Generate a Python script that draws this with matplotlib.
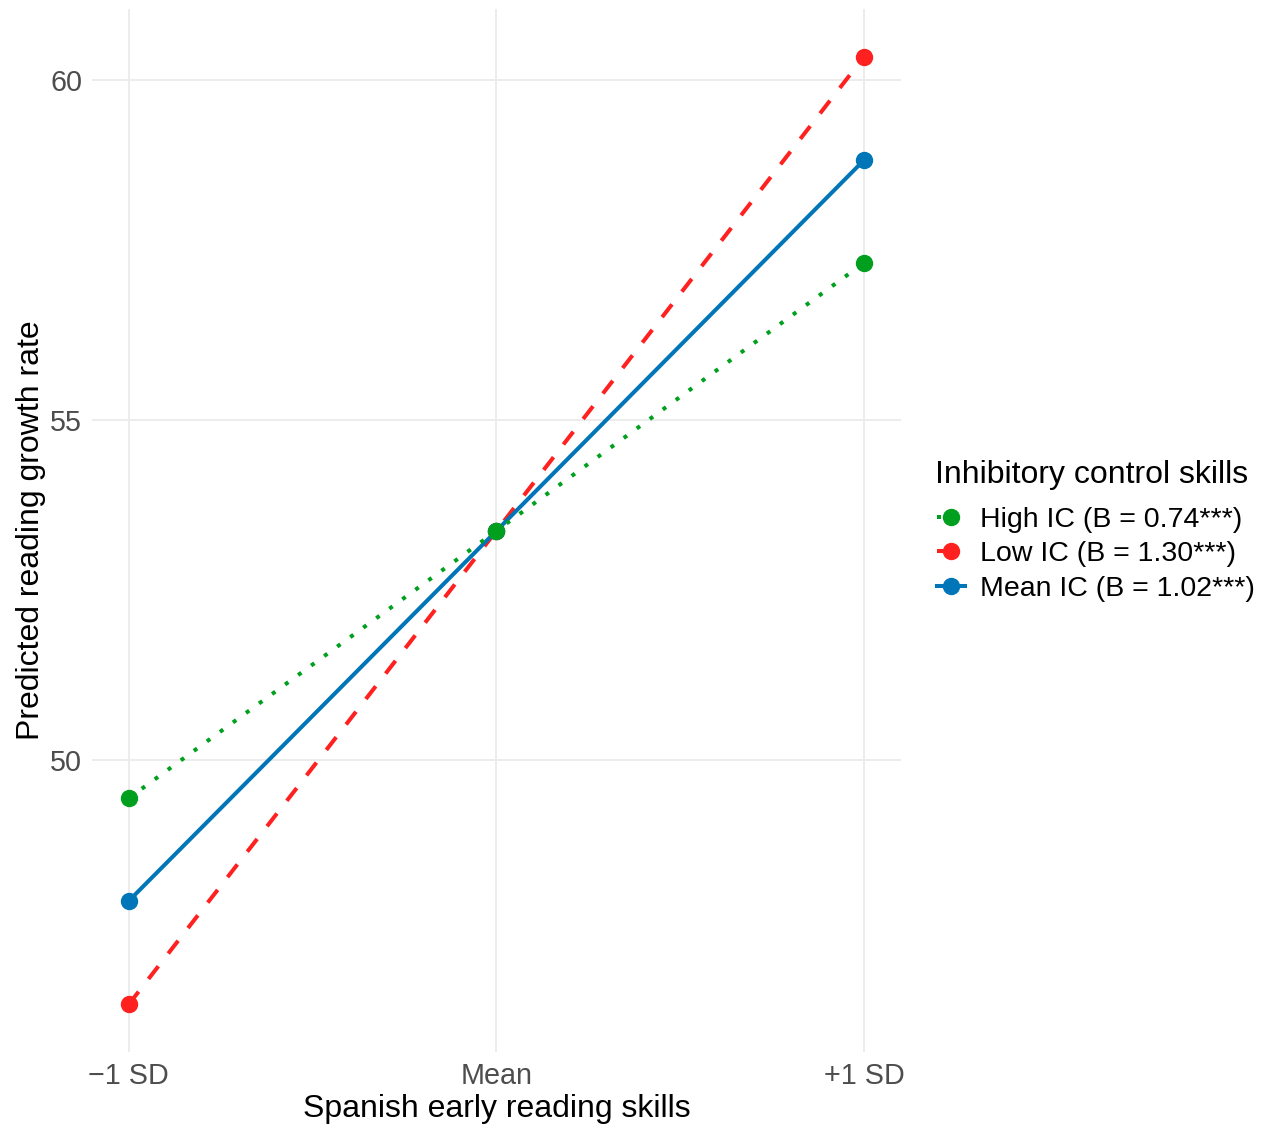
import matplotlib.pyplot as plt
from matplotlib.lines import Line2D

plt.rcParams['font.family'] = ['Liberation Sans', 'DejaVu Sans']

# x positions of the three levels of early reading skills
x_pos = [-1, 0, 1]
x_labels = ['\u22121 SD', 'Mean', '+1 SD']

# predicted values
high_ic = [49.44, 53.37, 57.31]
low_ic = [46.41, 53.37, 60.34]
mean_ic = [47.93, 53.37, 58.82]

labels = ['High IC (B = 0.74***)', 'Low IC (B = 1.30***)', 'Mean IC (B = 1.02***)']
colors = ['#00A01E', '#FF2020', '#0075B8']

fig = plt.figure(figsize=(12.63, 11.35), dpi=100)
ax = fig.add_axes([0.0728, 0.0731, 0.6405, 0.919])

lw = 2.9
series = [
    (low_ic, colors[1], (0, (4, 4))),
    (mean_ic, colors[2], '-'),
    (high_ic, colors[0], (0, (1, 3))),
]
for vals, col, ls in series:
    ax.plot(x_pos, vals, color=col, linestyle=ls, linewidth=lw,
            dash_capstyle='butt', solid_capstyle='butt', zorder=2)
for vals, col, ls in series:
    ax.plot(x_pos, vals, 'o', color=col, markersize=11.5, zorder=3)

ax.set_xlim(-1.1, 1.1)
ax.set_ylim(45.71, 61.04)
ax.set_xticks(x_pos)
ax.set_xticklabels(x_labels)
ax.set_yticks([50, 55, 60])
ax.tick_params(length=0, labelsize=20.7, labelcolor='#4D4D4D', pad=7)
ax.grid(True, color='#EBEBEB', linewidth=1.3)
ax.set_axisbelow(True)
for s in ax.spines.values():
    s.set_visible(False)

ax.set_xlabel('Spanish early reading skills', fontsize=23, labelpad=3)
ax.set_ylabel('Predicted reading growth rate', fontsize=23, labelpad=3)

# legend title drawn apart so its gap to the keys can be set
fig.text(0.740, 1 - 475 / 1135, 'Inhibitory control skills',
         fontsize=23, va='center', ha='left')

handles = [
    Line2D([], [], color=colors[0], linestyle=(0, (1, 3)), linewidth=lw,
           marker='o', markersize=11.5),
    Line2D([], [], color=colors[1], linestyle=(0, (4, 4)), linewidth=lw,
           marker='o', markersize=11.5),
    Line2D([], [], color=colors[2], linestyle='-', linewidth=lw,
           marker='o', markersize=11.5),
]
fig.legend(handles, labels, loc='upper left',
           bbox_to_anchor=(0.7417, 1 - 507 / 1135),
           frameon=False, fontsize=20.5,
           handlelength=1.0, handletextpad=0.53, labelspacing=0.29,
           borderaxespad=0, borderpad=0)

fig.savefig('out.png', dpi=100)
